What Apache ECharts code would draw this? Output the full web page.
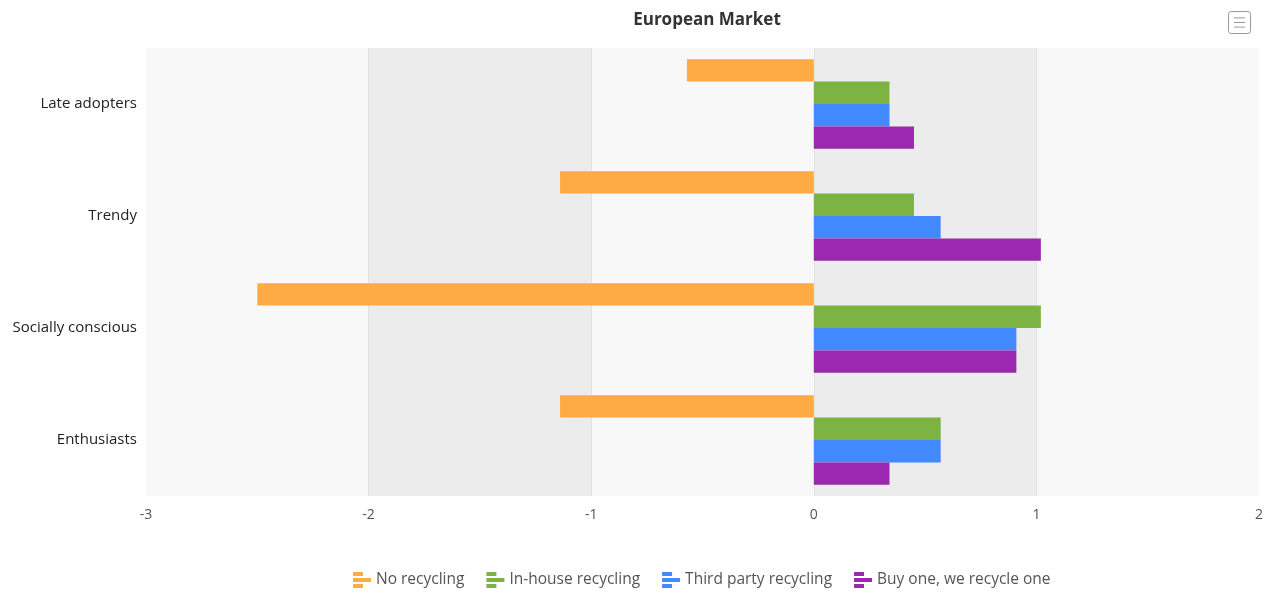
<!DOCTYPE html>
<html>
<head>
<meta charset="utf-8">
<script src="https://cdn.jsdelivr.net/npm/echarts@6/dist/echarts.min.js"></script>
<style>
  html, body { margin: 0; padding: 0; background: #fff; }
  #main { width: 1278px; height: 593px; }
</style>
</head>
<body>
<div id="main"></div>
<script>
// data
var categories = ['Enthusiasts', 'Socially conscious', 'Trendy', 'Late adopters'];
var seriesNames = ['No recycling', 'In-house recycling', 'Third party recycling', 'Buy one, we recycle one'];
var noRecycling = [-1.14, -2.5, -1.14, -0.57];
var inHouse = [0.57, 1.02, 0.45, 0.34];
var thirdParty = [0.57, 0.91, 0.57, 0.34];
var buyOne = [0.34, 0.91, 1.02, 0.45];
var colors = ['#FFAB45', '#7CB342', '#448AFF', '#9C27B0'];

var legendIcon = 'path://M0,0 L10,0 L10,4 L0,4 Z M0,6 L18,6 L18,10 L0,10 Z M0,12 L10,12 L10,16 L0,16 Z';
var menuIcon = 'path://M3,0 L21,0 Q24,0 24,3 L24,21 Q24,24 21,24 L3,24 Q0,24 0,21 L0,3 Q0,0 3,0 Z M6,7 L18,7 M6,12 L18,12 M6,17 L18,17';

var font = '"Open Sans", "Noto Sans", sans-serif';
var myChart = echarts.init(document.getElementById('main'));

var data = [noRecycling, inHouse, thirdParty, buyOne];
var series = seriesNames.map(function (name, i) {
  return {
    name: name,
    type: 'bar',
    data: data[i],
    barGap: '0%',
    barCategoryGap: '20%',
    itemStyle: { color: colors[i] }
  };
});

var option = {
  backgroundColor: '#fff',
  textStyle: { fontFamily: font },
  title: {
    text: 'European Market',
    // centred over the plot area, not the whole canvas
    left: 702,
    textAlign: 'center',
    top: 7,
    textStyle: { fontFamily: font, fontSize: 17, fontWeight: 'bold', color: '#333' }
  },
  toolbox: {
    right: 10,
    top: -6,
    itemSize: 22,
    iconStyle: { borderColor: '#999', color: 'none', borderWidth: 1 },
    feature: {
      myMenu: { show: true, title: 'menu', icon: menuIcon, onclick: function () {} }
    }
  },
  legend: {
    bottom: 0,
    left: 348,
    itemWidth: 18,
    itemHeight: 16,
    itemGap: 22,
    icon: legendIcon,
    data: seriesNames,
    textStyle: { fontFamily: font, fontSize: 15.5, color: '#555' }
  },
  grid: { left: 146, right: 19, top: 48, bottom: 97 },
  xAxis: {
    type: 'value',
    min: -3,
    max: 2,
    interval: 1,
    axisLine: { show: false },
    axisTick: { show: false },
    axisLabel: { fontFamily: font, fontSize: 14, color: '#555', margin: 12 },
    splitLine: { show: true, showMinLine: false, showMaxLine: false, lineStyle: { color: '#e2e2e2' } },
    splitArea: { show: true, areaStyle: { color: ['#f8f8f8', '#ececec'] } }
  },
  yAxis: {
    type: 'category',
    data: categories,
    axisLine: { show: false },
    axisTick: { show: false },
    axisLabel: { fontFamily: font, fontSize: 15, color: '#222', margin: 9 }
  },
  series: series
};

myChart.setOption(option, true);
</script>
</body>
</html>
